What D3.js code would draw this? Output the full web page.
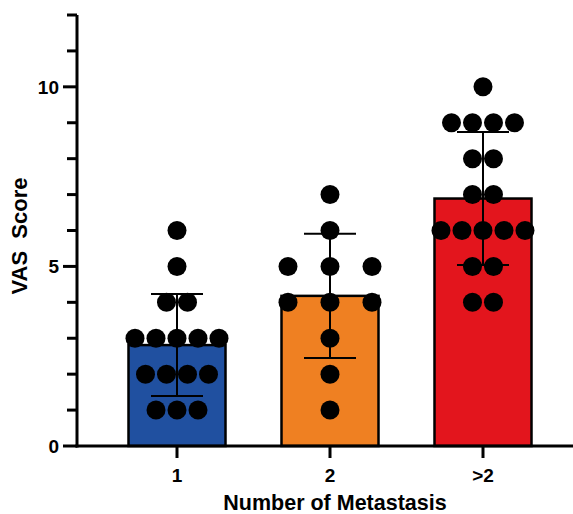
<!DOCTYPE html>
<html><head><meta charset="utf-8">
<script src="https://cdn.jsdelivr.net/npm/d3@7"></script>
<style>html,body{margin:0;padding:0;background:#fff}svg{display:block}</style>
</head><body>
<script>
const categories = ["1", "2", ">2"];
const means = [2.81, 4.18, 6.89];
const sds = [1.42, 1.73, 1.85];
const points1 = [6, 5, 4, 4, 3, 3, 3, 3, 3, 2, 2, 2, 2, 1, 1, 1];
const points2 = [7, 6, 5, 5, 5, 4, 4, 4, 3, 2, 1];
const points3 = [10, 9, 9, 9, 9, 8, 8, 7, 7, 6, 6, 6, 6, 6, 5, 5, 4, 4];
const colors = ["#2050a0", "#ef8022", "#e3151d"];
const yMajorTicks = [0, 5, 10];
const xTitle = "Number of Metastasis";
const yTitle = "VAS  Score";

const W = 573, H = 514;
const svg = d3.select("body").append("svg").attr("width", W).attr("height", H);
const left = 77, bottom = 446;
const y = d3.scaleLinear().domain([0, 12]).range([bottom, 15]);
const x = d3.scaleBand().domain(categories).range([128.5, 531.5]).paddingInner(0.366).paddingOuter(0);
const groups = [points1, points2, points3];
const spacing = [21, 42, 21];
const font = "Arial, 'Liberation Sans', Helvetica, sans-serif";

// bars
svg.selectAll("rect.bar").data(categories).join("rect")
  .attr("x", d => x(d)).attr("width", x.bandwidth())
  .attr("y", (d, i) => y(means[i])).attr("height", (d, i) => y(0) - y(means[i]))
  .attr("fill", (d, i) => colors[i]).attr("stroke", "#000").attr("stroke-width", 2.5);

// error bars
categories.forEach((c, i) => {
  const cx = x(c) + x.bandwidth() / 2;
  const g = svg.append("g").attr("stroke", "#000").attr("stroke-width", 2);
  g.append("line").attr("x1", cx).attr("x2", cx).attr("y1", y(means[i] + sds[i])).attr("y2", y(means[i] - sds[i]));
  [means[i] + sds[i], means[i] - sds[i]].forEach(v => {
    g.append("line").attr("x1", cx - 26).attr("x2", cx + 26).attr("y1", y(v)).attr("y2", y(v));
  });
});

// points
categories.forEach((c, i) => {
  const cx = x(c) + x.bandwidth() / 2;
  const counts = d3.rollup(groups[i], v => v.length, d => d);
  const seen = new Map();
  groups[i].forEach(v => {
    const n = counts.get(v);
    const k = seen.get(v) || 0; seen.set(v, k + 1);
    const off = (k - (n - 1) / 2) * spacing[i];
    svg.append("circle").attr("cx", cx + off).attr("cy", y(v)).attr("r", 9.5).attr("fill", "#000");
  });
});

// y axis
const ya = svg.append("g").attr("transform", `translate(${left},0)`);
ya.append("line").attr("x1", 0).attr("x2", 0).attr("y1", y(12)).attr("y2", y(0) + 1.5).attr("stroke", "#000").attr("stroke-width", 3);
d3.range(0, 13).forEach(t => {
  const major = yMajorTicks.includes(t);
  ya.append("line").attr("x1", major ? -14 : -10).attr("x2", 0).attr("y1", y(t)).attr("y2", y(t))
    .attr("stroke", "#000").attr("stroke-width", 3);
});
ya.selectAll("text.tick").data(yMajorTicks).join("text")
  .attr("x", -18).attr("y", d => y(d)).attr("dy", "0.36em").attr("text-anchor", "end")
  .attr("font-family", font).attr("font-weight", "bold").attr("font-size", 19).text(d => d);

// x axis
svg.append("line").attr("x1", left - 1.5).attr("x2", W).attr("y1", bottom).attr("y2", bottom).attr("stroke", "#000").attr("stroke-width", 3);
categories.forEach(c => {
  const cx = x(c) + x.bandwidth() / 2;
  svg.append("line").attr("x1", cx).attr("x2", cx).attr("y1", bottom).attr("y2", bottom + 12).attr("stroke", "#000").attr("stroke-width", 3);
  svg.append("text").attr("x", cx).attr("y", 482).attr("text-anchor", "middle")
    .attr("font-family", font).attr("font-weight", "bold").attr("font-size", 19).text(c);
});

svg.append("text").attr("x", 335).attr("y", 510).attr("text-anchor", "middle")
  .attr("font-family", font).attr("font-weight", "bold").attr("font-size", 21.5).text(xTitle);
svg.append("text").attr("transform", "translate(27,236) rotate(-90)").attr("text-anchor", "middle")
  .attr("font-family", font).attr("font-weight", "bold").attr("font-size", 22).style("white-space", "pre").text(yTitle);
</script>
</body></html>
